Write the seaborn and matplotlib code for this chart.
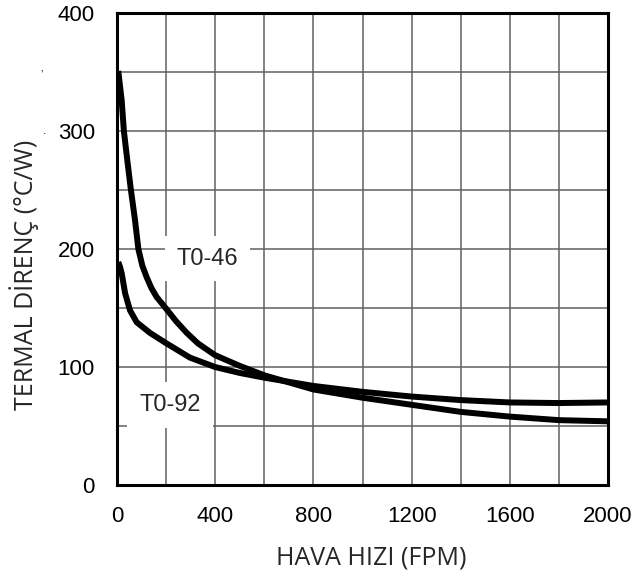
import numpy as np
import pandas as pd
import seaborn as sns
import matplotlib
matplotlib.use("Agg")
import matplotlib.pyplot as plt

# ---------- data ----------
t046_x = [5, 19, 28, 42, 56, 73, 87, 103, 121, 140, 161, 198, 240, 284, 330, 400,
          500, 600, 700, 800, 1000, 1200, 1400, 1600, 1800, 2000]
t046_y = [351, 326, 300, 275, 251, 225, 200, 186, 176, 167, 159.5, 150, 139, 129, 120, 110,
          101, 93, 87, 81, 74, 68, 62, 58, 55, 54]

t092_x = [5, 12, 19, 33, 53, 80, 134, 198, 297, 400, 500, 600, 700, 800,
          1000, 1200, 1400, 1600, 1800, 2000]
t092_y = [189, 185, 179.5, 162.5, 148, 138, 129, 120.5, 108, 100, 95, 91, 87.5, 84,
          79, 75, 72, 70, 69.5, 70]

x_ticks = [0, 400, 800, 1200, 1600, 2000]
y_ticks = [0, 100, 200, 300, 400]

df = pd.concat([
    pd.DataFrame({"hiz": t046_x, "direnc": t046_y, "seri": "T0-46"}),
    pd.DataFrame({"hiz": t092_x, "direnc": t092_y, "seri": "T0-92"}),
])

sns.set_theme(style="white")
plt.rcParams["font.family"] = ["Liberation Sans", "DejaVu Sans"]

fig = plt.figure(figsize=(6.36, 5.79), dpi=100)
ax = fig.add_axes([0.184, 0.1623, 0.772, 0.815])

sns.lineplot(data=df, x="hiz", y="direnc", units="seri", estimator=None,
             color="black", linewidth=4.3, ax=ax, sort=False,
             solid_capstyle="butt", solid_joinstyle="round")

ax.set_xlim(0, 2000)
ax.set_ylim(0, 400)
ax.set_xticks(np.arange(0, 2001, 200), minor=True)
ax.set_yticks(np.arange(0, 401, 50), minor=True)
ax.set_xticks(x_ticks)
ax.set_yticks(y_ticks)
ax.grid(which="both", color="#606060", linewidth=1.1)
ax.tick_params(which="both", length=0, labelsize=16, colors="black")
ax.tick_params(axis="x", pad=15)
ax.tick_params(axis="y", pad=16)
for s in ax.spines.values():
    s.set_visible(True)
    s.set_color("black")
    s.set_linewidth(2.2)
    s.set_zorder(5)

lab_font = ["Open Sans", "DejaVu Sans"]
ax.set_xlabel("HAVA HIZI (FPM)", fontsize=18, family=lab_font)
ax.set_ylabel("TERMAL DİRENÇ (°C/W)", fontsize=18, family=lab_font)
ax.xaxis.set_label_coords(0.517, -0.128)
ax.yaxis.set_label_coords(-0.158, 0.445)

box = dict(boxstyle="square,pad=0.5", facecolor="white", edgecolor="none")
ax.text(367, 192, "T0-46", fontsize=17, ha="center", va="center", bbox=box, zorder=3)
ax.text(216, 68, "T0-92", fontsize=17, ha="center", va="center", bbox=box, zorder=3)

# small stray marks in the reference
fig.text(0.063, 0.862, "ʼ", fontsize=9)
fig.text(0.067, 0.768, ".", fontsize=9)

fig.savefig("out.png", dpi=100)
